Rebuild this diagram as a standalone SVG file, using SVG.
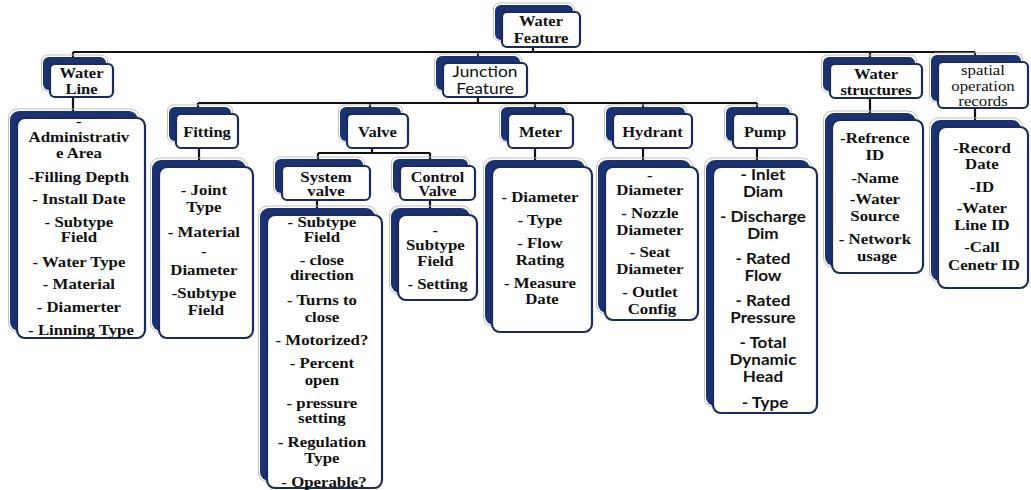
<svg xmlns="http://www.w3.org/2000/svg" width="1031" height="490" viewBox="0 0 1031 490">
  <style>
    .ol { fill: none; stroke: #b4b8c2; stroke-width: 0.9; }
    .sh { fill: #1b3272; }
    .bx { fill: #ffffff; stroke: #1a2a5a; stroke-width: 2.2; }
    .t  { font-family: 'Liberation Serif', serif; font-weight: bold; font-size: 14px; fill: #111; text-anchor: middle; }
    .n  { font-weight: normal; }
    .s  { font-family: 'Lato', 'Liberation Sans', sans-serif; font-size: 15.5px; fill: #111; text-anchor: middle; }
    .sb { font-weight: bold; }
    .ln { fill: none; stroke: #111; stroke-width: 2.2; }
  </style>

  <!-- tree connectors -->
  <g id="connectors" class="ln">
    <path d="M533,47 V52 M73,52 H975 M73,52 V57 M478,52 V56 M870,52 V57 M975,52 V55"/>
    <path d="M73,97 V111 M870,98 V113 M975,108 V120"/>
    <path d="M478,97 V103 M198,103 H757 M198,103 V107 M370,103 V107 M535,103 V107 M643,103 V107 M757,103 V107"/>
    <path d="M199,148 V160 M535,148 V160 M643,148 V160 M757,148 V160"/>
    <path d="M372,148 V153 M318,153 H430 M318,153 V159 M430,153 V159 M317,200 V208 M430,200 V208"/>
  </g>

  <!-- root -->
  <g id="water-feature">
    <rect class="ol" x="493.5" y="3" width="81" height="38" rx="6"/>
    <rect class="sh" x="495" y="5" width="78" height="35" rx="6"/>
    <rect class="bx" x="502" y="12" width="78" height="35" rx="5"/>
    <text class="t" transform="translate(541,0) scale(1.18,1)"><tspan x="0" y="26">Water</tspan><tspan x="0" y="43">Feature</tspan></text>
  </g>

  <!-- level 1 -->
  <g id="water-line">
    <rect class="ol" x="41.5" y="55" width="66" height="36" rx="6"/>
    <rect class="sh" x="43" y="57" width="63" height="33" rx="6"/>
    <rect class="bx" x="50" y="64" width="63" height="33" rx="5"/>
    <text class="t" transform="translate(81.5,0) scale(1.18,1)"><tspan x="0" y="78">Water</tspan><tspan x="0" y="94">Line</tspan></text>
  </g>

  <g id="junction-feature">
    <rect class="ol" x="434.5" y="54" width="87" height="37" rx="6"/>
    <rect class="sh" x="436" y="56" width="84" height="34" rx="6"/>
    <rect class="bx" x="443" y="63" width="84" height="34" rx="5"/>
    <text class="s" transform="translate(485,0) scale(1.12,1)"><tspan x="0" y="77">Junction</tspan><tspan x="0" y="94">Feature</tspan></text>
  </g>

  <g id="water-structures">
    <rect class="ol" x="821.5" y="55" width="95" height="37" rx="6"/>
    <rect class="sh" x="823" y="57" width="92" height="34" rx="6"/>
    <rect class="bx" x="830" y="64" width="92" height="34" rx="5"/>
    <text class="t" transform="translate(876,0) scale(1.18,1)"><tspan x="0" y="79">Water</tspan><tspan x="0" y="95">structures</tspan></text>
  </g>

  <g id="spatial-operation-records">
    <rect class="ol" x="929.5" y="53" width="93" height="49" rx="6"/>
    <rect class="sh" x="931" y="55" width="90" height="46" rx="6"/>
    <rect class="bx" x="938" y="62" width="90" height="46" rx="5"/>
    <text class="t n" font-size="15.5" transform="translate(983,0) scale(1.2,1)"><tspan x="0" y="75">spatial</tspan><tspan x="0" y="91">operation</tspan><tspan x="0" y="106">records</tspan></text>
  </g>

  <!-- junction feature types -->
  <g id="fitting">
    <rect class="ol" x="167.5" y="105" width="65" height="37" rx="6"/>
    <rect class="sh" x="169" y="107" width="62" height="34" rx="6"/>
    <rect class="bx" x="176" y="114" width="62" height="34" rx="5"/>
    <text class="t" transform="translate(207,0) scale(1.18,1)" x="0" y="137">Fitting</text>
  </g>

  <g id="valve">
    <rect class="ol" x="338.5" y="105" width="64" height="37" rx="6"/>
    <rect class="sh" x="340" y="107" width="61" height="34" rx="6"/>
    <rect class="bx" x="347" y="114" width="61" height="34" rx="5"/>
    <text class="t" transform="translate(377.5,0) scale(1.18,1)" x="0" y="137">Valve</text>
  </g>

  <g id="meter">
    <rect class="ol" x="499.5" y="105" width="68" height="37" rx="6"/>
    <rect class="sh" x="501" y="107" width="65" height="34" rx="6"/>
    <rect class="bx" x="508" y="114" width="65" height="34" rx="5"/>
    <text class="t" transform="translate(540.5,0) scale(1.18,1)" x="0" y="137">Meter</text>
  </g>

  <g id="hydrant">
    <rect class="ol" x="604.5" y="105" width="82" height="37" rx="6"/>
    <rect class="sh" x="606" y="107" width="79" height="34" rx="6"/>
    <rect class="bx" x="613" y="114" width="79" height="34" rx="5"/>
    <text class="t" transform="translate(652.5,0) scale(1.18,1)" x="0" y="137">Hydrant</text>
  </g>

  <g id="pump">
    <rect class="ol" x="724.5" y="105" width="67" height="37" rx="6"/>
    <rect class="sh" x="726" y="107" width="64" height="34" rx="6"/>
    <rect class="bx" x="733" y="114" width="64" height="34" rx="5"/>
    <text class="t" transform="translate(765,0) scale(1.18,1)" x="0" y="137">Pump</text>
  </g>

  <!-- valve types -->
  <g id="system-valve">
    <rect class="ol" x="273.5" y="157" width="91" height="37" rx="6"/>
    <rect class="sh" x="275" y="159" width="88" height="34" rx="6"/>
    <rect class="bx" x="282" y="166" width="88" height="34" rx="5"/>
    <text class="t" font-size="13.5" transform="translate(326,0) scale(1.2,1)"><tspan x="0" y="182">System</tspan><tspan x="0" y="196">valve</tspan></text>
  </g>

  <g id="control-valve">
    <rect class="ol" x="391.5" y="157" width="78" height="37" rx="6"/>
    <rect class="sh" x="393" y="159" width="75" height="34" rx="6"/>
    <rect class="bx" x="400" y="166" width="75" height="34" rx="5"/>
    <text class="t" font-size="13.5" transform="translate(437.5,0) scale(1.15,1)"><tspan x="0" y="182">Control</tspan><tspan x="0" y="196">Valve</tspan></text>
  </g>

  <!-- attribute lists -->
  <g id="water-line-attributes">
    <rect class="ol" x="8.5" y="109" width="131" height="223" rx="9"/>
    <rect class="sh" x="10" y="111" width="128" height="220" rx="9"/>
    <rect class="bx" x="17" y="118" width="128" height="220" rx="8"/>
    <text class="t" transform="translate(81,0) scale(1.2,1)">
      <tspan x="0" y="126">-</tspan>
      <tspan x="0" y="142">Administrativ</tspan>
      <tspan x="0" y="158">e Area</tspan>
      <tspan x="0" y="182">-Filling Depth</tspan>
      <tspan x="0" y="204">- Install Date</tspan>
      <tspan x="0" y="227">- Subtype</tspan>
      <tspan x="0" y="242">Field</tspan>
      <tspan x="0" y="267">- Water Type</tspan>
      <tspan x="0" y="289">- Material</tspan>
      <tspan x="0" y="312">- Diamerter</tspan>
      <tspan x="0" y="335">- Linning Type</tspan>
    </text>
  </g>

  <g id="fitting-attributes">
    <rect class="ol" x="150.5" y="158" width="97" height="174" rx="9"/>
    <rect class="sh" x="152" y="160" width="94" height="171" rx="9"/>
    <rect class="bx" x="159" y="167" width="94" height="171" rx="8"/>
    <text class="t" transform="translate(206,0) scale(1.2,1)">
      <tspan x="0" y="195">- Joint</tspan>
      <tspan x="0" y="212">Type</tspan>
      <tspan x="0" y="237">- Material</tspan>
      <tspan x="0" y="256">-</tspan>
      <tspan x="0" y="275">Diameter</tspan>
      <tspan x="0" y="298">-Subtype</tspan>
      <tspan x="0" y="315">Field</tspan>
    </text>
  </g>

  <g id="system-valve-attributes">
    <rect class="ol" x="258.5" y="206" width="118" height="276" rx="9"/>
    <rect class="sh" x="260" y="208" width="115" height="273" rx="9"/>
    <rect class="bx" x="267" y="215" width="115" height="273" rx="8"/>
    <text class="t" transform="translate(324,0) scale(1.2,1)">
      <tspan x="0" y="227">- Subtype</tspan>
      <tspan x="0" y="242">Field</tspan>
      <tspan x="0" y="265">- close</tspan>
      <tspan x="0" y="280">direction</tspan>
      <tspan x="0" y="305">- Turns to</tspan>
      <tspan x="0" y="322">close</tspan>
      <tspan x="0" y="345">- Motorized?</tspan>
      <tspan x="0" y="368">- Percent</tspan>
      <tspan x="0" y="385">open</tspan>
      <tspan x="0" y="408">- pressure</tspan>
      <tspan x="0" y="423">setting</tspan>
      <tspan x="0" y="447">- Regulation</tspan>
      <tspan x="0" y="463">Type</tspan>
      <tspan x="0" y="487">- Operable?</tspan>
    </text>
  </g>

  <g id="control-valve-attributes">
    <rect class="ol" x="389.5" y="206" width="82" height="88" rx="9"/>
    <rect class="sh" x="391" y="208" width="79" height="85" rx="9"/>
    <rect class="bx" x="398" y="215" width="79" height="85" rx="8"/>
    <text class="t" transform="translate(437.5,0) scale(1.2,1)">
      <tspan x="0" y="235">-</tspan>
      <tspan x="0" y="250">Subtype</tspan>
      <tspan x="0" y="266">Field</tspan>
      <tspan x="0" y="289">- Setting</tspan>
    </text>
  </g>

  <g id="meter-attributes">
    <rect class="ol" x="483.5" y="158" width="103" height="168" rx="9"/>
    <rect class="sh" x="485" y="160" width="100" height="165" rx="9"/>
    <rect class="bx" x="492" y="167" width="100" height="165" rx="8"/>
    <text class="t" transform="translate(542,0) scale(1.2,1)">
      <tspan x="0" y="202">- Diameter</tspan>
      <tspan x="0" y="225">- Type</tspan>
      <tspan x="0" y="248">- Flow</tspan>
      <tspan x="0" y="265">Rating</tspan>
      <tspan x="0" y="288">- Measure</tspan>
      <tspan x="0" y="304">Date</tspan>
    </text>
  </g>

  <g id="hydrant-attributes">
    <rect class="ol" x="596.5" y="158" width="96" height="156" rx="9"/>
    <rect class="sh" x="598" y="160" width="93" height="153" rx="9"/>
    <rect class="bx" x="605" y="167" width="93" height="153" rx="8"/>
    <text class="t" transform="translate(652,0) scale(1.2,1)">
      <tspan x="0" y="180">-</tspan>
      <tspan x="0" y="195">Diameter</tspan>
      <tspan x="0" y="218">- Nozzle</tspan>
      <tspan x="0" y="235">Diameter</tspan>
      <tspan x="0" y="257">- Seat</tspan>
      <tspan x="0" y="274">Diameter</tspan>
      <tspan x="0" y="297">- Outlet</tspan>
      <tspan x="0" y="314">Config</tspan>
    </text>
  </g>

  <g id="pump-attributes">
    <rect class="ol" x="704.5" y="158" width="107" height="249" rx="9"/>
    <rect class="sh" x="706" y="160" width="104" height="246" rx="9"/>
    <rect class="bx" x="713" y="167" width="104" height="246" rx="8"/>
    <text class="s sb" transform="translate(765,0) scale(1.1,1)">
      <tspan x="0" y="180">- Inlet</tspan>
      <tspan x="0" y="197">Diam</tspan>
      <tspan x="0" y="222">- Discharge</tspan>
      <tspan x="0" y="239">Dim</tspan>
      <tspan x="0" y="264">- Rated</tspan>
      <tspan x="0" y="281">Flow</tspan>
      <tspan x="0" y="306">- Rated</tspan>
      <tspan x="0" y="323">Pressure</tspan>
      <tspan x="0" y="348">- Total</tspan>
      <tspan x="0" y="365">Dynamic</tspan>
      <tspan x="0" y="382">Head</tspan>
      <tspan x="0" y="408">- Type</tspan>
    </text>
  </g>

  <g id="water-structures-attributes">
    <rect class="ol" x="823.5" y="111" width="94" height="156" rx="9"/>
    <rect class="sh" x="825" y="113" width="91" height="153" rx="9"/>
    <rect class="bx" x="832" y="120" width="91" height="153" rx="8"/>
    <text class="t" transform="translate(877,0) scale(1.2,1)">
      <tspan x="0" y="143">-Refrence</tspan>
      <tspan x="0" y="160">ID</tspan>
      <tspan x="0" y="183">-Name</tspan>
      <tspan x="0" y="204">-Water</tspan>
      <tspan x="0" y="221">Source</tspan>
      <tspan x="0" y="244">- Network</tspan>
      <tspan x="0" y="261">usage</tspan>
    </text>
  </g>

  <g id="spatial-operation-records-attributes">
    <rect class="ol" x="929.5" y="118" width="93" height="164" rx="9"/>
    <rect class="sh" x="931" y="120" width="90" height="161" rx="9"/>
    <rect class="bx" x="938" y="127" width="90" height="161" rx="8"/>
    <text class="t" transform="translate(984,0) scale(1.2,1)">
      <tspan x="0" y="153">-Record</tspan>
      <tspan x="0" y="169">Date</tspan>
      <tspan x="0" y="192">-ID</tspan>
      <tspan x="0" y="213">-Water</tspan>
      <tspan x="0" y="230">Line ID</tspan>
      <tspan x="0" y="252">-Call</tspan>
      <tspan x="0" y="270">Cenetr ID</tspan>
    </text>
  </g>
</svg>
